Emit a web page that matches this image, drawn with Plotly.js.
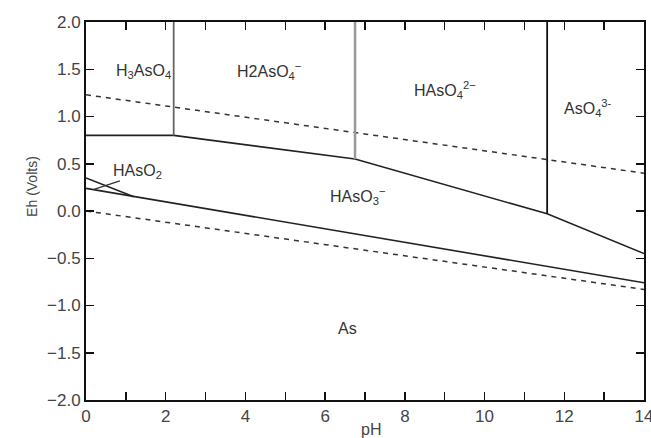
<!DOCTYPE html>
<html>
<head>
<meta charset="utf-8">
<script src="https://cdn.plot.ly/plotly-3.0.1.min.js"></script>
<style>html,body{margin:0;padding:0;background:#fff;}#chart{width:651px;height:438px;}</style>
</head>
<body>
<div id="chart"></div>
<script>
// Water stability lines (dashed)
const o2Line_pH = [0, 14];
const o2Line_Eh = [1.23, 0.40];
const h2Line_pH = [0, 14];
const h2Line_Eh = [0.00, -0.83];

// As(V) / As(III) boundary
const asV_pH = [0, 2.2, 6.75, 11.57, 14];
const asV_Eh = [0.80, 0.80, 0.55, -0.03, -0.45];

// Vertical acid-base boundaries of As(V)
const v1_pH = [2.2, 2.2];   const v1_Eh = [0.80, 2.0];
const v2_pH = [6.75, 6.75]; const v2_Eh = [0.55, 2.0];
const v3_pH = [11.57, 11.57]; const v3_Eh = [-0.03, 2.0];

// As(III) / As(0) boundary
const asIII_pH = [0, 14];
const asIII_Eh = [0.24, -0.76];
const steep_pH = [0, 1.2];
const steep_Eh = [0.35, 0.15];
const short_pH = [0.2, 0.85];
const short_Eh = [0.23, 0.32];

// Species labels
const labelText = ['H<sub>3</sub>AsO<sub>4</sub>', 'H2AsO<sub>4</sub><sup>−</sup>', 'HAsO<sub>4</sub><sup>2−</sup>',
                   'AsO<sub>4</sub><sup>3-</sup>', 'HAsO<sub>2</sub>', 'HAsO<sub>3</sub><sup>−</sup>', 'As'];
const label_pH = [1.45, 4.6, 9.0, 12.6, 1.3, 6.8, 6.55];
const label_Eh = [1.48, 1.48, 1.28, 1.09, 0.42, 0.16, -1.24];

const solid = {color: '#222', width: 1.6};
const dashed = {color: '#333', width: 1.5, dash: '5px,5px'};

function tr(x, y, line) {
  return {x: x, y: y, mode: 'lines', type: 'scatter', line: line, hoverinfo: 'skip', showlegend: false};
}

const data = [
  tr(o2Line_pH, o2Line_Eh, dashed),
  tr(h2Line_pH, h2Line_Eh, dashed),
  tr(asV_pH, asV_Eh, solid),
  tr(v1_pH, v1_Eh, {color: '#666', width: 1.8}),
  tr(v2_pH, v2_Eh, {color: '#999', width: 2.5}),
  tr(v3_pH, v3_Eh, {color: '#111', width: 1.8}),
  tr(asIII_pH, asIII_Eh, solid),
  tr(steep_pH, steep_Eh, solid),
  tr(short_pH, short_Eh, {color: '#333', width: 1.3})
];

const fam = 'Liberation Sans, Arial, sans-serif';
const annotations = labelText.map((t, i) => ({
  x: label_pH[i], y: label_Eh[i], xref: 'x', yref: 'y', text: t, showarrow: false,
  font: {family: fam, size: 16, color: '#333'}
}));
annotations.push({
  x: -0.115, y: 0.566, xref: 'paper', yref: 'paper', text: 'Eh (Volts)', textangle: -90,
  showarrow: false, font: {family: fam, size: 14, color: '#444'}
});
annotations.push({
  x: 0.51, y: -0.105, xref: 'paper', yref: 'paper', text: 'pH', showarrow: false,
  font: {family: fam, size: 16, color: '#444'}
});

const layout = {
  width: 651, height: 438,
  margin: {l: 86, r: 7, t: 22, b: 38},
  paper_bgcolor: '#fff', plot_bgcolor: '#fff',
  font: {family: fam, size: 17, color: '#444'},
  showlegend: false,
  xaxis: {
    range: [0, 14], tickmode: 'linear', tick0: 0, dtick: 2,
    ticks: 'inside', ticklen: 8, tickwidth: 1.5, tickcolor: '#111',
    showline: true, linecolor: '#111', linewidth: 2, mirror: 'ticks',
    showgrid: false, zeroline: false, ticklabeloverflow: 'allow',
    minor: {dtick: 1, ticks: 'inside', ticklen: 8, tickwidth: 1.5, tickcolor: '#111', showgrid: false},
    tickfont: {size: 17, color: '#444'}
  },
  yaxis: {
    range: [-2, 2], tickmode: 'linear', tick0: -2, dtick: 0.5, tickformat: '.1f',
    ticks: 'inside', ticklen: 8, tickwidth: 1.5, tickcolor: '#111',
    showline: true, linecolor: '#111', linewidth: 2, mirror: 'ticks',
    showgrid: false, zeroline: false, ticklabeloverflow: 'allow',
    tickfont: {size: 17, color: '#444'}
  },
  annotations: annotations
};

Plotly.newPlot('chart', data, layout, {displayModeBar: false, staticPlot: true});
</script>
</body>
</html>
